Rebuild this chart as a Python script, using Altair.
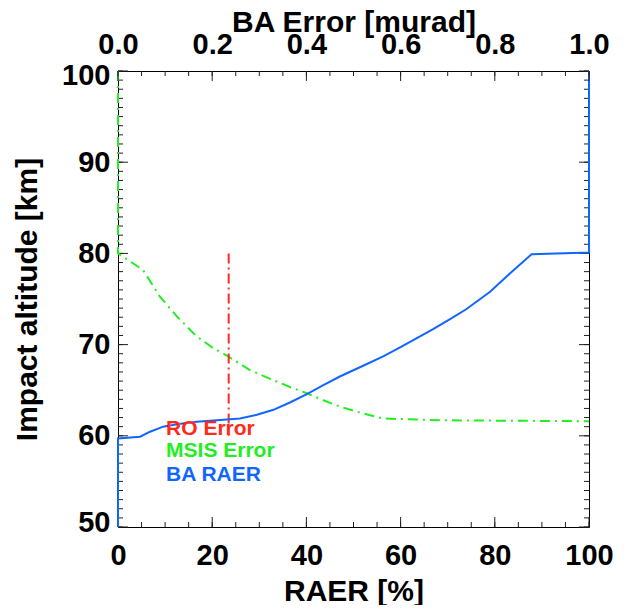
import altair as alt
import pandas as pd

# ---- data ----
raer_pct = [0, 0, 4.7, 6.8, 9.6, 12.5, 16.7, 23.1, 25.9, 29.5, 33.0, 36.5, 40.1, 43.6, 47.1, 51.7, 56.3, 59.9,
            66.9, 70.5, 74.0, 79.0, 83.2, 87.8, 100, 100]
raer_alt = [50, 59.7, 59.9, 60.45, 61.0, 61.26, 61.55, 61.8, 61.9, 62.3, 62.85, 63.65, 64.58, 65.55, 66.5, 67.6,
            68.7, 69.7, 71.7, 72.8, 73.9, 75.8, 77.8, 79.9, 80.1, 100]

msis_pct = [0, 0, 5.3, 8.9, 12.5, 16.7, 20.0, 23.4, 28.0, 33.0, 36.5, 40.1, 43.6, 47.1, 51.7, 56.3, 59.9, 68.4, 100]
msis_alt = [100, 80.0, 78.2, 75.25, 73.1, 70.9, 69.7, 68.7, 67.2, 66.1, 65.35, 64.66, 63.9, 63.2, 62.5, 61.9, 61.84,
            61.7, 61.6]

ro_pct = [23.5, 23.5]
ro_alt = [80.0, 60.0]

legend_labels = ["RO Error", "MSIS Error", "BA RAER"]
legend_colors = ["#FF2A1A", "#22EE22", "#1166FF"]
legend_pct = [10.2, 10.2, 10.2]
legend_alt = [60.75, 58.3, 55.7]

x_major = [0, 20, 40, 60, 80, 100]
x_minor = list(range(0, 101, 5))
top_major = [0.0, 0.2, 0.4, 0.6, 0.8, 1.0]
top_minor = [i / 20 for i in range(21)]
y_major = [50, 60, 70, 80, 90, 100]
y_minor = list(range(50, 101))

W, H = 471, 456
FONT = "Liberation Sans"

xscale = alt.Scale(domain=[0, 100], nice=False, zero=False)
yscale = alt.Scale(domain=[50, 100], nice=False, zero=False)
xaxis = alt.Axis(title="RAER [%]", values=x_major, format="d", orient="bottom",
                 ticks=False, tickSize=0, domain=False, grid=False,
                 labelFlush=False, labelPadding=14, titlePadding=6)
yaxis = alt.Axis(title="Impact altitude [km]", values=y_major, format="d",
                 ticks=False, tickSize=0, domain=False, grid=False,
                 labelPadding=8, labelFlush=True, labelFlushOffset=10, titlePadding=19)
topscale = alt.Scale(domain=[0, 1], nice=False, zero=False)
topaxis = alt.Axis(title="BA Error [murad]", values=top_major, format=".1f", orient="top",
                   ticks=False, tickSize=0, domain=False, grid=False,
                   labelFlush=False, labelPadding=12, titlePadding=-7)


def X():
    return alt.X("x:Q", scale=xscale, axis=xaxis)


def Y():
    return alt.Y("y:Q", scale=yscale, axis=yaxis)


def series(xs, ys):
    return pd.DataFrame({"x": xs, "y": ys, "i": list(range(len(xs)))})


blue = alt.Chart(series(raer_pct, raer_alt)).mark_line(color=legend_colors[2], strokeWidth=2).encode(
    x=X(), y=Y(), order=alt.Order("i:Q"))
green = alt.Chart(series(msis_pct, msis_alt)).mark_line(
    color=legend_colors[1], strokeWidth=2, strokeDash=[10, 5, 2, 5]).encode(
    x=X(), y=Y(), order=alt.Order("i:Q"))
red = alt.Chart(series(ro_pct, ro_alt)).mark_line(
    color=legend_colors[0], strokeWidth=2, strokeDash=[10, 4, 2, 4]).encode(
    x=X(), y=Y(), order=alt.Order("i:Q"))

leg_df = pd.DataFrame({"x": legend_pct, "y": legend_alt, "label": legend_labels})
legend = alt.Chart(leg_df).mark_text(align="left", baseline="middle", fontSize=21,
                                     fontWeight="bold", font=FONT).encode(
    x=X(), y=Y(), text="label:N",
    color=alt.Color("label:N", scale=alt.Scale(domain=legend_labels, range=legend_colors), legend=None))

tick_style = dict(color="#222222", strokeWidth=1)
ymaj = pd.DataFrame({"y": y_major})
ymin = pd.DataFrame({"y": y_minor})
xmaj = pd.DataFrame({"x": x_major})
xmin = pd.DataFrame({"x": x_minor})

ytl_maj = alt.Chart(ymaj).mark_rule(**tick_style).encode(y=Y(), x=alt.value(0), x2=alt.value(10))
ytl_min = alt.Chart(ymin).mark_rule(**tick_style).encode(y=Y(), x=alt.value(0), x2=alt.value(5))
ytr_maj = alt.Chart(ymaj).mark_rule(**tick_style).encode(y=Y(), x=alt.value(W), x2=alt.value(W - 10))
ytr_min = alt.Chart(ymin).mark_rule(**tick_style).encode(y=Y(), x=alt.value(W), x2=alt.value(W - 5))
xtb_maj = alt.Chart(xmaj).mark_rule(**tick_style).encode(x=X(), y=alt.value(H), y2=alt.value(H - 10))
xtb_min = alt.Chart(xmin).mark_rule(**tick_style).encode(x=X(), y=alt.value(H), y2=alt.value(H - 5))

main = alt.layer(ytl_min, ytl_maj, ytr_min, ytr_maj, xtb_min, xtb_maj, green, red, blue, legend)

tmaj = pd.DataFrame({"b": top_major})
tmin = pd.DataFrame({"b": top_minor})
xt_maj = alt.Chart(tmaj).mark_rule(**tick_style).encode(
    x=alt.X("b:Q", scale=topscale, axis=topaxis), y=alt.value(0), y2=alt.value(10))
xt_min = alt.Chart(tmin).mark_rule(**tick_style).encode(
    x=alt.X("b:Q", scale=topscale, axis=topaxis), y=alt.value(0), y2=alt.value(5))
top = alt.layer(xt_min, xt_maj)

chart = alt.layer(main, top).resolve_scale(x="independent").properties(
    width=W, height=H,
    autosize=alt.AutoSizeParams(type="none"),
    padding={"left": 110, "top": 63, "right": 25, "bottom": 78},
).configure_view(stroke="black", strokeWidth=1).configure_axis(
    labelFont=FONT, labelFontSize=29, labelFontWeight="bold", labelColor="black",
    titleFont=FONT, titleFontSize=30, titleFontWeight="bold", titleColor="black",
)

chart.save("out.html", embed_options={"renderer": "svg", "actions": False})
